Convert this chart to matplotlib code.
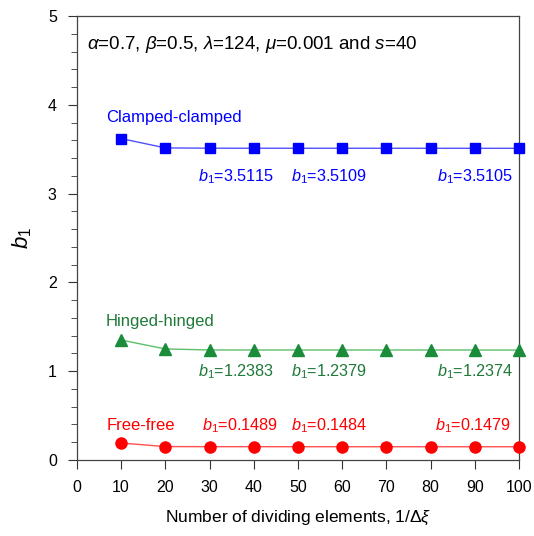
import matplotlib
matplotlib.use("Agg")
import matplotlib.pyplot as plt

plt.rcParams['font.family'] = ['Liberation Sans', 'DejaVu Sans']
plt.rcParams['mathtext.fontset'] = 'custom'
plt.rcParams['mathtext.rm'] = 'Liberation Sans'
plt.rcParams['mathtext.it'] = 'Liberation Sans:italic'

x = [10, 20, 30, 40, 50, 60, 70, 80, 90, 100]
clamped = [3.62, 3.515, 3.5115, 3.5112, 3.5109, 3.5108, 3.5107, 3.5106, 3.5105, 3.5105]
hinged = [1.35, 1.25, 1.2383, 1.2381, 1.2379, 1.2378, 1.2377, 1.2376, 1.2375, 1.2374]
free = [0.19, 0.15, 0.1489, 0.1487, 0.1484, 0.1483, 0.1482, 0.1481, 0.1480, 0.1479]

xticks = [0, 10, 20, 30, 40, 50, 60, 70, 80, 90, 100]
yticks = [0, 1, 2, 3, 4, 5]

fig = plt.figure(figsize=(5.34, 5.36), dpi=100)
ax = fig.add_axes([0.144, 0.142, 0.828, 0.828])

blue = '#0000ff'
green_m = '#1a8c3a'
green_l = '#5cbf6a'
green_t = '#1f7a3a'
red = '#ff0000'

ax.plot(x, clamped, color='#5050ff', lw=1.0, marker='s', ms=7, mfc=blue, mec=blue, clip_on=False, zorder=3)
ax.plot(x, hinged, color=green_l, lw=1.0, marker='^', ms=8, mfc=green_m, mec=green_m, clip_on=False, zorder=3)
ax.plot(x, free, color='#ff5050', lw=1.0, marker='o', ms=8, mfc=red, mec=red, clip_on=False, zorder=3)

ax.set_xlim(0, 100)
ax.set_ylim(0, 5)
ax.set_xticks(xticks)
ax.set_yticks(yticks)
ax.set_yticks([i * 0.2 for i in range(26)], minor=True)
ax.tick_params(axis='both', which='both', direction='out', labelsize=11.5, color='#333333')
ax.tick_params(axis='both', which='major', length=6.5, pad=8)
ax.tick_params(axis='y', which='minor', length=4)
for s in ax.spines.values():
    s.set_color('#444444')
    s.set_linewidth(0.9)

ax.set_xlabel(r'Number of dividing elements, 1/$\Delta\xi$', fontsize=12.5, labelpad=10)
ax.set_ylabel(r'$b_1$', fontsize=16, labelpad=10)

ax.text(2.3, 4.68, r'$\alpha$=0.7, $\beta$=0.5, $\lambda$=124, $\mu$=0.001 and $s$=40',
        fontsize=13.5, va='center', ha='left')

ax.text(6.5, 3.86, 'Clamped-clamped', color=blue, fontsize=12, va='center')
for xp, v in [(27.5, '3.5115'), (48.4, '3.5109'), (81.5, '3.5105')]:
    ax.text(xp, 3.19, r'$b_1$=' + v, color=blue, fontsize=11.7, va='center')

ax.text(6.5, 1.555, 'Hinged-hinged', color=green_t, fontsize=12, va='center')
for xp, v in [(27.5, '1.2383'), (48.4, '1.2379'), (81.5, '1.2374')]:
    ax.text(xp, 0.99, r'$b_1$=' + v, color=green_t, fontsize=11.7, va='center')

ax.text(6.8, 0.39, 'Free-free', color=red, fontsize=12, va='center')
for xp, v in [(28.2, '0.1489'), (48.4, '0.1484'), (80.9, '0.1479')]:
    ax.text(xp, 0.39, r'$b_1$=' + v, color=red, fontsize=11.7, va='center')

fig.savefig('out.png', dpi=100)
